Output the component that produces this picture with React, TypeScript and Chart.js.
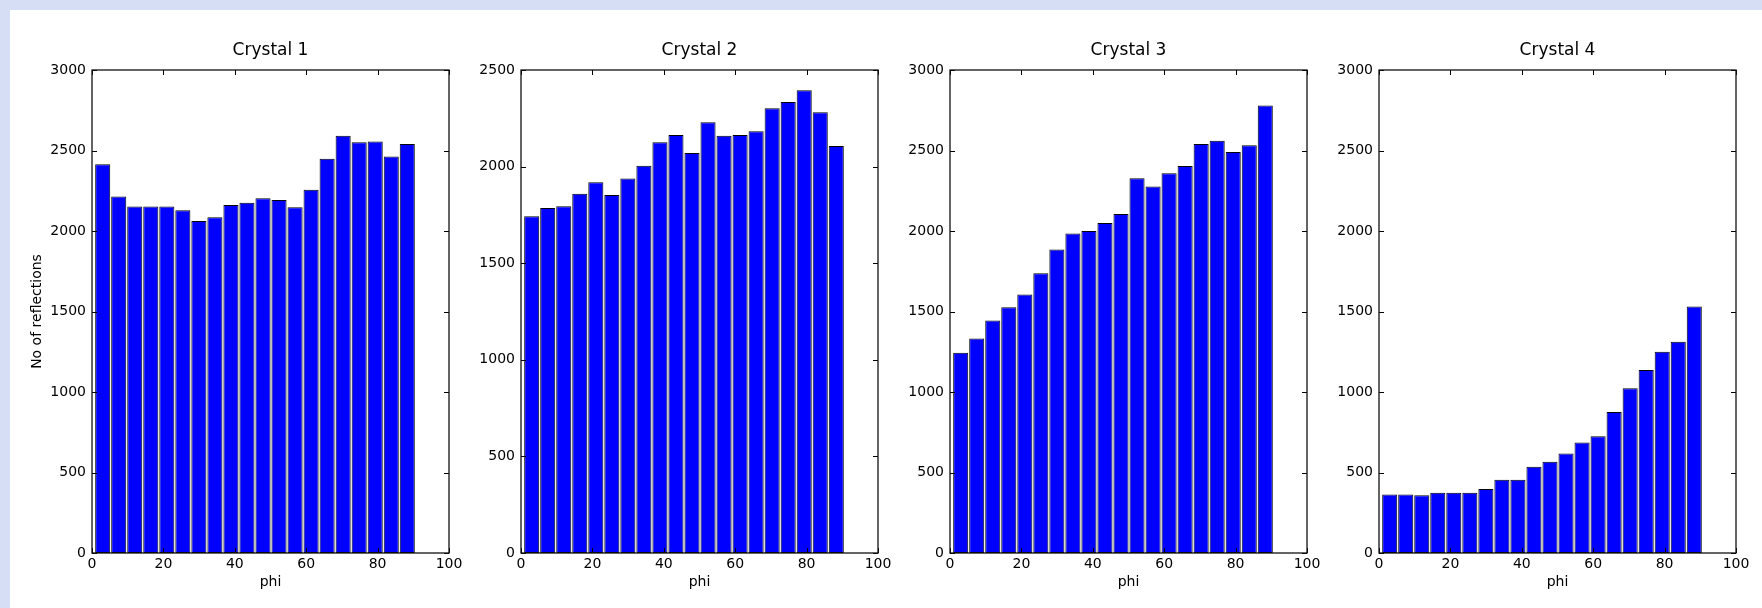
import React, { useEffect, useRef } from "react";
import { Chart, registerables } from "chart.js";

Chart.register(...registerables);

// phi bin centres (degrees)
const phiCenters = [3.0, 7.49, 11.98, 16.47, 20.96, 25.45, 29.94, 34.43, 38.92, 43.41, 47.9, 52.39, 56.88, 61.37, 65.86, 70.35, 74.84, 79.33, 83.82, 88.31];

const crystal1 = [2415, 2215, 2152, 2152, 2152, 2129, 2062, 2085, 2162, 2175, 2204, 2192, 2148, 2256, 2448, 2592, 2552, 2556, 2462, 2540];
const crystal2 = [1743, 1786, 1795, 1859, 1919, 1853, 1938, 2005, 2126, 2164, 2071, 2229, 2160, 2164, 2183, 2302, 2334, 2395, 2281, 2107];
const crystal3 = [1244, 1333, 1444, 1527, 1606, 1738, 1885, 1985, 2000, 2050, 2106, 2327, 2277, 2358, 2404, 2540, 2560, 2490, 2533, 2779];
const crystal4 = [364, 364, 358, 374, 374, 374, 397, 455, 455, 535, 566, 618, 686, 725, 876, 1023, 1136, 1250, 1312, 1531];

const titles = ["Crystal 1", "Crystal 2", "Crystal 3", "Crystal 4"];
const seriesList = [crystal1, crystal2, crystal3, crystal4];
const yMaxes = [3000, 2500, 3000, 3000];
const yStep = 500;
const xMin = 0;
const xMax = 100;
const xStep = 20;
const xTitle = "phi";
const yTitle = "No of reflections";

const FONT = "'DejaVu Sans', 'Liberation Sans', sans-serif";
const plotLefts = [92, 521, 950, 1379];
const AXIS_W = 75;
const PAD_R = 20;
const PLOT_W = 357;
const CANVAS_W = AXIS_W + PLOT_W + PAD_R;
const CANVAS_H = 608;

const frameTicks = {
  id: "frameTicks",
  afterDatasetsDraw(chart: any) {
    const { ctx, chartArea, scales } = chart;
    const { left, right, top, bottom } = chartArea;
    const xs = scales.x;
    const ys = scales.y;
    ctx.save();
    ctx.strokeStyle = "#000";
    ctx.lineWidth = 1;
    const TL = 5;
    xs.ticks.forEach((t: any) => {
      const px = Math.round(xs.getPixelForValue(t.value)) + 0.5;
      ctx.beginPath();
      ctx.moveTo(px, bottom);
      ctx.lineTo(px, bottom - TL);
      ctx.moveTo(px, top);
      ctx.lineTo(px, top + TL);
      ctx.stroke();
    });
    ys.ticks.forEach((t: any) => {
      const py = Math.round(ys.getPixelForValue(t.value)) + 0.5;
      ctx.beginPath();
      ctx.moveTo(left, py);
      ctx.lineTo(left + TL, py);
      ctx.moveTo(right, py);
      ctx.lineTo(right - TL, py);
      ctx.stroke();
    });
    ctx.lineWidth = 1.3;
    ctx.strokeStyle = "#111";
    ctx.strokeRect(left, top, right - left, bottom - top);
    ctx.restore();
  },
};

function Panel({ index }: { index: number }) {
  const ref = useRef<HTMLCanvasElement | null>(null);
  useEffect(() => {
    if (!ref.current) return;
    const values = seriesList[index];
    const chart = new Chart(ref.current, {
      type: "bar",
      data: {
        datasets: [
          {
            data: phiCenters.map((x, i) => ({ x, y: values[i] })),
            backgroundColor: "#0000ff",
            borderColor: "#000000",
            borderWidth: 1,
            borderSkipped: false,
            barPercentage: 0.94,
            categoryPercentage: 1.0,
          } as any,
        ],
      },
      options: {
        animation: false,
        responsive: false,
        maintainAspectRatio: false,
        devicePixelRatio: 1,
        layout: { padding: { top: 0, right: PAD_R, bottom: 17.6, left: 0 } },
        plugins: {
          legend: { display: false },
          tooltip: { enabled: false },
          title: {
            display: true,
            text: titles[index],
            fullSize: false,
            color: "#000",
            font: { family: FONT, size: 17, weight: "normal", lineHeight: 1.2 },
            padding: { top: 40.5, bottom: 9.1 },
          },
        },
        scales: {
          x: {
            type: "linear",
            min: xMin,
            max: xMax,
            offset: false,
            grid: { display: false, drawTicks: false },
            border: { display: false },
            ticks: {
              stepSize: xStep,
              padding: 3,
              color: "#000",
              maxRotation: 0,
              autoSkip: false,
              font: { family: FONT, size: 14 },
              callback: (v: any) => String(v),
            },
            title: {
              display: true,
              text: xTitle,
              color: "#000",
              font: { family: FONT, size: 14, lineHeight: 1.2 },
              padding: 0,
            },
            afterFit: (s: any) => {
              s.height = 37.4;
            },
          },
          y: {
            type: "linear",
            min: 0,
            max: yMaxes[index],
            grid: { display: false, drawTicks: false },
            border: { display: false },
            ticks: {
              stepSize: yStep,
              padding: 6,
              color: "#000",
              autoSkip: false,
              font: { family: FONT, size: 14 },
              callback: (v: any) => String(v),
            },
            title: {
              display: index === 0,
              text: yTitle,
              color: "#000",
              font: { family: FONT, size: 14, lineHeight: 1.2 },
              padding: { top: 11.6, bottom: 0 },
            },
            afterFit: (s: any) => {
              s.width = AXIS_W;
            },
          },
        },
      } as any,
      plugins: [frameTicks],
    });
    return () => chart.destroy();
  }, [index]);
  return (
    <canvas
      ref={ref}
      width={CANVAS_W}
      height={CANVAS_H}
      style={{
        position: "absolute",
        left: plotLefts[index] - AXIS_W,
        top: 0,
        width: CANVAS_W,
        height: CANVAS_H,
      }}
    />
  );
}

export default function App() {
  useEffect(() => {
    document.body.style.margin = "0";
  }, []);
  return (
    <div
      style={{
        position: "absolute",
        left: 0,
        top: 0,
        width: 1762,
        height: 608,
        background: "#ffffff",
        overflow: "hidden",
      }}
    >
      <div style={{ position: "absolute", left: 0, top: 0, width: 1762, height: 10, background: "#d5def5" }} />
      <div style={{ position: "absolute", left: 0, top: 0, width: 10, height: 608, background: "#d5def5" }} />
      {[0, 1, 2, 3].map((i) => (
        <Panel key={i} index={i} />
      ))}
    </div>
  );
}
